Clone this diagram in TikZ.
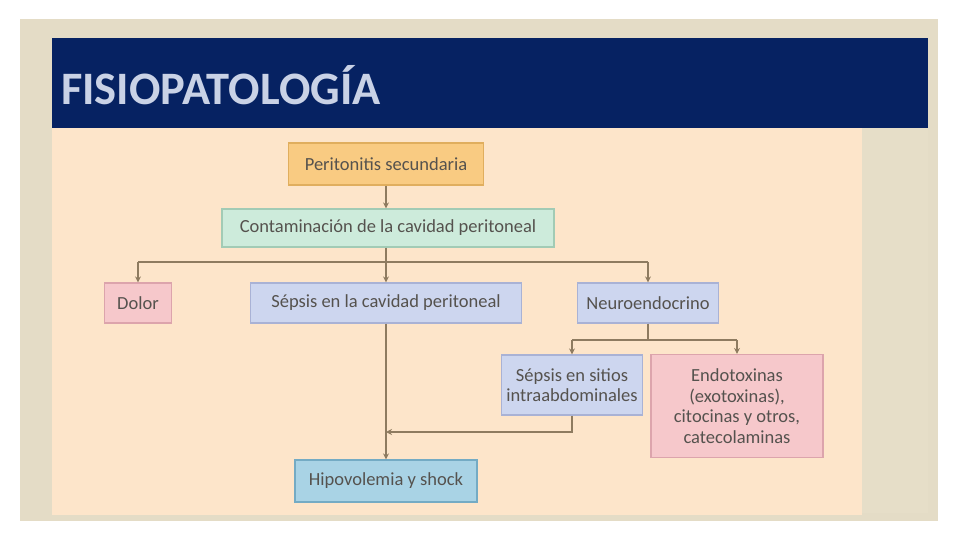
\documentclass[tikz,border=0pt]{standalone}
\usepackage{fontspec}
\setmainfont{Carlito}
\usetikzlibrary{arrows.meta}
\definecolor{framec}{HTML}{E4DCC6}
\definecolor{stripc}{HTML}{E6DEC8}
\definecolor{peach}{HTML}{FDE5CA}
\definecolor{navy}{HTML}{062262}
\definecolor{titlec}{HTML}{C9D2E6}
\definecolor{txtc}{HTML}{55524E}
\definecolor{linec}{HTML}{8E7B60}
\definecolor{orangef}{HTML}{F9CB82}
\definecolor{oranged}{HTML}{E0AE5E}
\definecolor{mintf}{HTML}{CDEBDB}
\definecolor{mintd}{HTML}{A2CBB5}
\definecolor{pinkf}{HTML}{F6C8CB}
\definecolor{pinkd}{HTML}{DCA4AC}
\definecolor{lavf}{HTML}{CDD6EF}
\definecolor{lavd}{HTML}{A9B2D5}
\definecolor{bluef}{HTML}{A9D3E5}
\definecolor{blued}{HTML}{74ABC4}
\begin{document}
\begin{tikzpicture}[x=1pt,y=-1pt,
  box/.style={draw, line width=1.2pt, rectangle, inner sep=0pt, align=center,
    font=\fontsize{18.5}{20.5}\selectfont, text=txtc},
  ln/.style={draw=linec, line width=1.6pt},
  conn/.style={ln, -{Stealth[length=6pt,width=6pt]}}]
\useasboundingbox (0,0) rectangle (960,540);
\fill[white] (0,0) rectangle (960,540);
\fill[framec] (20,19) rectangle (938,521);
\fill[stripc] (862,128) rectangle (928,513);
\fill[peach] (52,128) rectangle (862,515);
\fill[navy] (52,38) rectangle (928,128);
\node[anchor=west, inner sep=0pt, font=\fontsize{46.5}{46.5}\selectfont\bfseries, text=titlec] (title) at (61,85) {FISIOPATOLOGÍA};

\node[box, fill=orangef, draw=oranged, minimum width=195pt, minimum height=42pt] (n1) at (386,164) {Peritonitis secundaria};
\node[box, fill=mintf, draw=mintd, minimum width=332pt, minimum height=38pt] (n2) at (388,228) {Contaminación de la cavidad peritoneal};
\node[box, fill=pinkf, draw=pinkd, minimum width=67pt, minimum height=40pt] (n3) at (138,303) {Dolor};
\node[box, fill=lavf, draw=lavd, minimum width=271pt, minimum height=40pt] (n4) at (386,303) {Sépsis en la cavidad peritoneal};
\node[box, fill=lavf, draw=lavd, minimum width=141pt, minimum height=40pt] (n5) at (648,303) {Neuroendocrino};
\node[box, fill=lavf, draw=lavd, minimum width=141pt, minimum height=60pt] (n6) at (572,385) {Sépsis en sitios\\intraabdominales};
\node[box, fill=pinkf, draw=pinkd, minimum width=172pt, minimum height=103pt] (n7) at (737,406) {Endotoxinas\\(exotoxinas),\\citocinas y otros,\\catecolaminas};
\node[box, fill=bluef, draw=blued, minimum width=182pt, minimum height=42pt] (n8) at (386,481) {Hipovolemia y shock};

\coordinate (bus) at (386,262);
\coordinate (bus2) at (648,340);
\coordinate (j) at (572,432);

\draw[conn] (n1.south) -- (n1.south |- n2.north);
\draw[ln] (n1.south |- n2.south) -- (bus);
\draw[ln] (bus -| n3) -- (bus -| n5);
\draw[conn] (bus -| n3) -- (n3.north);
\draw[conn] (bus) -- (n4.north);
\draw[conn] (bus -| n5) -- (n5.north);
\draw[ln] (n5.south) -- (bus2);
\draw[ln] (bus2 -| n6) -- (bus2 -| n7);
\draw[conn] (bus2 -| n6) -- (n6.north);
\draw[conn] (bus2 -| n7) -- (n7.north);
\draw[conn] (n4.south) -- (n8.north);
\draw[conn] (n6.south) -- (j) -- (j -| n4);
\end{tikzpicture}
\end{document}
